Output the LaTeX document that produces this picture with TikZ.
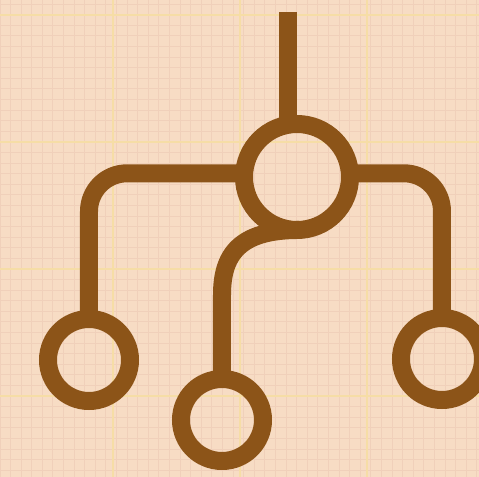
\documentclass[tikz,border=0pt]{standalone}
\usepackage{xcolor}
\usepackage{tikz}
\usetikzlibrary{positioning}
\definecolor{cpaper}{HTML}{F7DCC4}
\definecolor{cminor}{HTML}{F0D0BA}
\definecolor{cmajor}{HTML}{F6DDA6}
\definecolor{cbrown}{HTML}{8C5418}

\begin{document}
\begin{tikzpicture}[x=0.5pt,y=-0.5pt,
    ring/.style={circle,draw=cbrown,line width=9pt,inner sep=0pt,outer sep=0pt},
    wire/.style={draw=cbrown,line width=9pt,line join=round}]
    \useasboundingbox (0,0) rectangle (479,477);
    % graph paper
    \fill[cpaper] (0,0) rectangle (479,477);
    \foreach \k in {0,...,45} {
      \draw[cminor,line width=0.5pt] (\k*10.6,0) -- (\k*10.6,477);
      \draw[cminor,line width=0.5pt] (0,\k*10.6+4) -- (479,\k*10.6+4);
    }
    \foreach \k in {0,...,3} {
      \draw[cmajor,line width=1.3pt] (\k*127+113,0) -- (\k*127+113,477);
      \draw[cmajor,line width=1.3pt] (0,\k*127+15) -- (479,\k*127+15);
    }

    \node[ring,minimum size=53pt] (hub) at (297,177) {};
    \node[ring,minimum size=41pt] (leafL) at (89,360) {};
    \node[ring,minimum size=41pt] (leafM) at (222,420) {};
    \node[ring,minimum size=41pt] (leafR) at (442,359) {};
    \coordinate (stem) at (288,12);
    \coordinate (bend) at (222,295);

    \draw[wire] (stem) -- (stem |- hub.north);
    \draw[wire,rounded corners=19pt] (hub.176) -| (leafL.north);
    \draw[wire,rounded corners=19pt] (hub.4) -| (leafR.north);
    \draw[wire,line cap=round] (hub.272) .. controls +(-60,0) and +(0,-40) .. (bend) -- (leafM.north);
  \end{tikzpicture}
\end{document}
